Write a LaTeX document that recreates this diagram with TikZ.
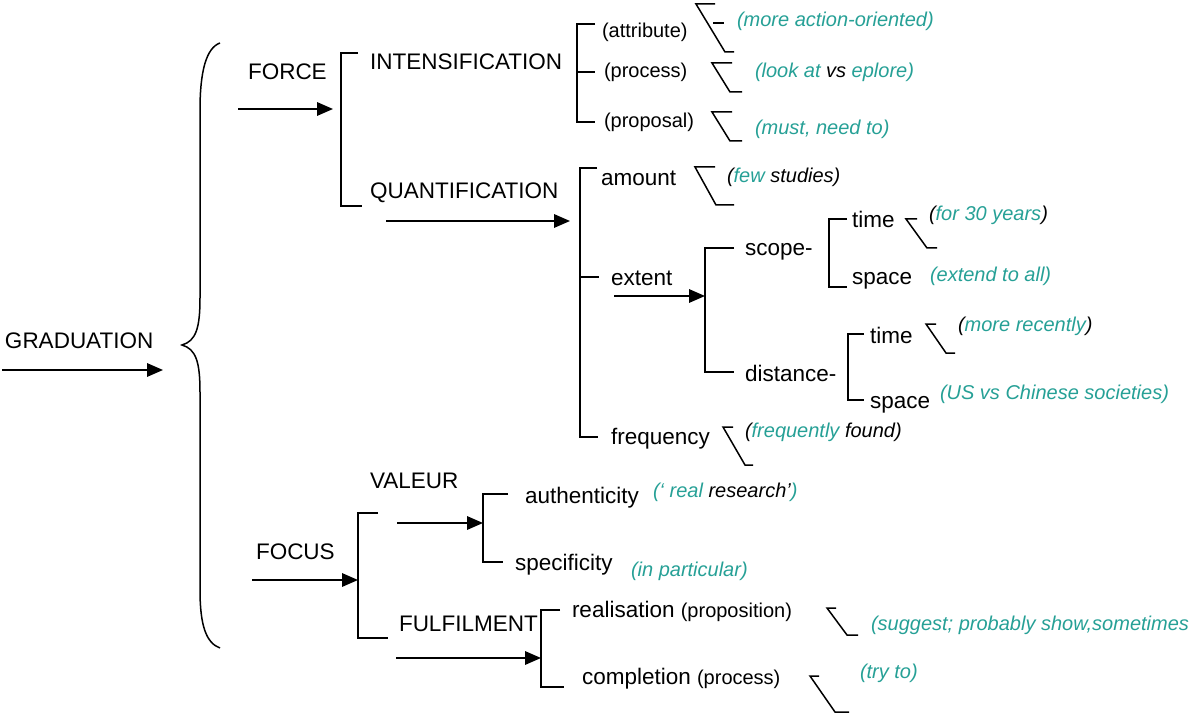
\documentclass[tikz,border=0pt]{standalone}
\usepackage{fontspec}
\setmainfont{Liberation Sans}
\usetikzlibrary{arrows.meta}
\definecolor{notegreen}{RGB}{38,160,150}
\begin{document}
\begin{tikzpicture}[x=1pt,y=-1pt,line width=1.7pt,
  lbl/.style={anchor=base west, inner sep=0pt, outer sep=0pt, font=\fontsize{22.5}{27}\selectfont},
  sml/.style={lbl, font=\fontsize{20}{24}\selectfont},
  note/.style={lbl, font=\fontsize{20}{24}\selectfont\itshape, text=notegreen},
  arr/.style={-{Triangle[length=16pt,width=13.5pt]}},
  tickmark/.style={line width=1.5pt},
  brk/.style={line width=1.7pt}]
\useasboundingbox (0,0) rectangle (1192,714);

% ---------- labels ----------
\node[lbl] (grad) at (5,348) {GRADUATION};
\node[lbl] (force) at (248,80) {FORCE};
\node[lbl] (intens) at (370,70) {INTENSIFICATION};
\node[lbl] (quant) at (370,199) {QUANTIFICATION};
\node[sml] (attr) at (602,38) {(attribute)};
\node[sml] (proc) at (604,78) {(process)};
\node[sml] (prop) at (604,128) {(proposal)};
\node[note] (n1) at (737,27) {(more action-oriented)};
\node[note] (n2) at (755,78) {(look at {\color{black}vs} eplore)};
\node[note] (n3) at (755,135) {(must, need to)};
\node[lbl] (amount) at (601,186) {amount};
\node[note] (n4) at (727,183) {{\color{black}(}few {\color{black}studies)}};
\node[lbl] (extent) at (611,286) {extent};
\node[lbl] (scope) at (745,256) {scope-};
\node[lbl] (distance) at (745,381) {distance-};
\node[lbl] (time1) at (852,228) {time};
\node[lbl] (space1) at (852,285) {space};
\node[note] (n5) at (929,221) {{\color{black}(}for 30 years{\color{black})}};
\node[note] (n6) at (930,282) {(extend to all)};
\node[lbl] (time2) at (870,343) {time};
\node[lbl] (space2) at (870,408) {space};
\node[note] (n7) at (958,331) {{\color{black}(}more recently{\color{black})}};
\node[note] (n8) at (940,399) {(US vs Chinese societies)};
\node[lbl] (freq) at (611,444) {frequency};
\node[note] (n9) at (745,437) {{\color{black}(}frequently {\color{black}found)}};
\node[lbl] (valeur) at (370,488) {VALEUR};
\node[lbl] (focus) at (256,559) {FOCUS};
\node[lbl] (auth) at (525,503) {authenticity};
\node[lbl] (spec) at (515,570) {specificity};
\node[note] (n10) at (653,497) {(‘ real {\color{black}research’})};
\node[note] (n11) at (631,576) {(in particular)};
\node[lbl] (fulfil) at (399,631) {FULFILMENT};
\node[lbl] (real) at (572,617) {realisation {\fontsize{20}{24}\selectfont(proposition)}};
\node[lbl] (compl) at (582,684) {completion {\fontsize{20}{24}\selectfont(process)}};
\node[note] (n12) at (871,630) {(suggest; probably show,sometimes};
\node[note] (n13) at (860,678) {(try to)};

% ---------- brace ----------
\coordinate (braceTip) at (182,345);
\draw[line width=1.5pt] (220,43) .. controls (206,48) and (200,72) .. (200,110) -- (200,298)
  .. controls (200,328) and (196,341) .. (braceTip)
  .. controls (196,349) and (200,362) .. (200,392) -- (200,590)
  .. controls (200,625) and (206,643) .. (220,648);

% ---------- arrows ----------
\coordinate (gS) at (2,370);   \coordinate (gE) at (163,370);
\draw[arr] (gS) -- (gE);
\coordinate (fS) at (238,109); \coordinate (fE) at (333,109);
\draw[arr] (fS) -- (fE);
\coordinate (qS) at (386,221); \coordinate (qE) at (570,221);
\draw[arr] (qS) -- (qE);
\coordinate (eS) at (614,296); \coordinate (eE) at (705,296);
\draw[arr] (eS) -- (eE);
\coordinate (foS) at (252,580); \coordinate (foE) at (358,580);
\draw[arr] (foS) -- (foE);
\coordinate (vS) at (397,523); \coordinate (vE) at (483,523);
\draw[arr] (vS) -- (vE);
\coordinate (fuS) at (396,658); \coordinate (fuE) at (541,658);
\draw[arr] (fuS) -- (fuE);

% ---------- brackets ----------
\draw[brk] (358,53) -- (341,53) -- (341,206) -- (362,206);           % FORCE
\draw[brk] (595,24) -- (577,24) -- (577,122) -- (595,122);           % INTENSIFICATION
\draw[brk] (577,72) -- (595,72);
\draw[brk] (597,168) -- (580,168) -- (580,437) -- (598,437);         % QUANTIFICATION
\draw[brk] (580,277) -- (599,277);
\draw[brk] (734,248) -- (705,248) -- (705,372) -- (734,372);         % extent
\draw[brk] (847,219) -- (829,219) -- (829,287) -- (847,287);         % scope
\draw[brk] (864,334) -- (848,334) -- (848,400) -- (864,400);         % distance
\draw[brk] (378,513) -- (358,513) -- (358,638) -- (388,638);         % FOCUS
\draw[brk] (508,494) -- (483,494) -- (483,562) -- (503,562);         % VALEUR
\draw[brk] (560,610) -- (541,610) -- (541,687) -- (564,687);         % FULFILMENT

% ---------- angle marks ----------
\draw[tickmark] (715,4) -- (696,4) -- (725,52) -- (734,52);
\draw[tickmark] (713,23) -- (724,23);
\draw[tickmark] (732,63) -- (712,63) -- (730,92) -- (742,92);
\draw[tickmark] (732,112) -- (712,112) -- (730,141) -- (742,141);
\draw[tickmark] (715,167) -- (695,167) -- (716,205) -- (734,205);
\draw[tickmark] (917,219) -- (906,219) -- (927,248) -- (937,248);
\draw[tickmark] (936,324) -- (926,324) -- (946,353) -- (955,353);
\draw[tickmark] (733,427) -- (723,427) -- (745,465) -- (753,465);
\draw[tickmark] (836,608) -- (827,608) -- (847,635) -- (858,635);
\draw[tickmark] (819,676) -- (810,676) -- (835,712) -- (849,712);
\end{tikzpicture}
\end{document}
